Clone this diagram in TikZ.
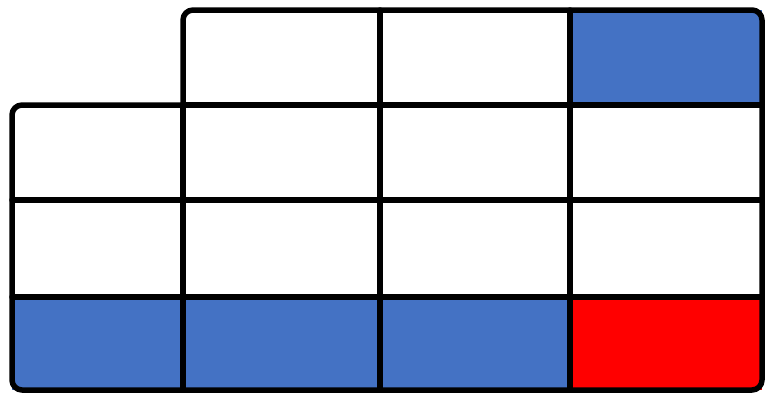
\documentclass[tikz,border=0pt]{standalone}
\usepackage{xcolor}
\usepackage{tikz}
\usetikzlibrary{positioning}

\definecolor{cellblue}{HTML}{4472C4}
\definecolor{cellred}{HTML}{FF0000}

\begin{document}
\begin{tikzpicture}[
  x=1pt, y=-1pt,
  cell/.style={draw=none, inner sep=0pt, anchor=north west},
  grid/.style={line width=5.5pt, line cap=round},
  outline/.style={line width=5.5pt, rounded corners=10pt, line join=round, line cap=round}
]
\useasboundingbox (0,0) rectangle (765,394);

% filled cells
\node[cell, fill=cellblue, minimum width=192pt, minimum height=95pt] (c14) at (570,10) {};
\node[cell, fill=cellblue, minimum width=171pt, minimum height=93pt] (c41) at (12,297) {};
\node[cell, fill=cellblue, minimum width=197pt, minimum height=93pt] (c42) at (183,297) {};
\node[cell, fill=cellblue, minimum width=190pt, minimum height=93pt] (c43) at (380,297) {};
\node[cell, fill=cellred, minimum width=192pt, minimum height=93pt] (c44) at (570,297) {};

% outer border
\draw[outline] (183,105) -- (183,10) -- (762,10) -- (762,390) -- (12,390)
  -- (12,105) -- (183,105);

% inner lines
\draw[grid] (183,105) -- (762,105);
\draw[grid] (12,200) -- (762,200);
\draw[grid] (12,297) -- (762,297);
\draw[grid] (183,105) -- (183,390);
\draw[grid] (380,10) -- (380,390);
\draw[grid] (570,10) -- (570,390);
\end{tikzpicture}
\end{document}
